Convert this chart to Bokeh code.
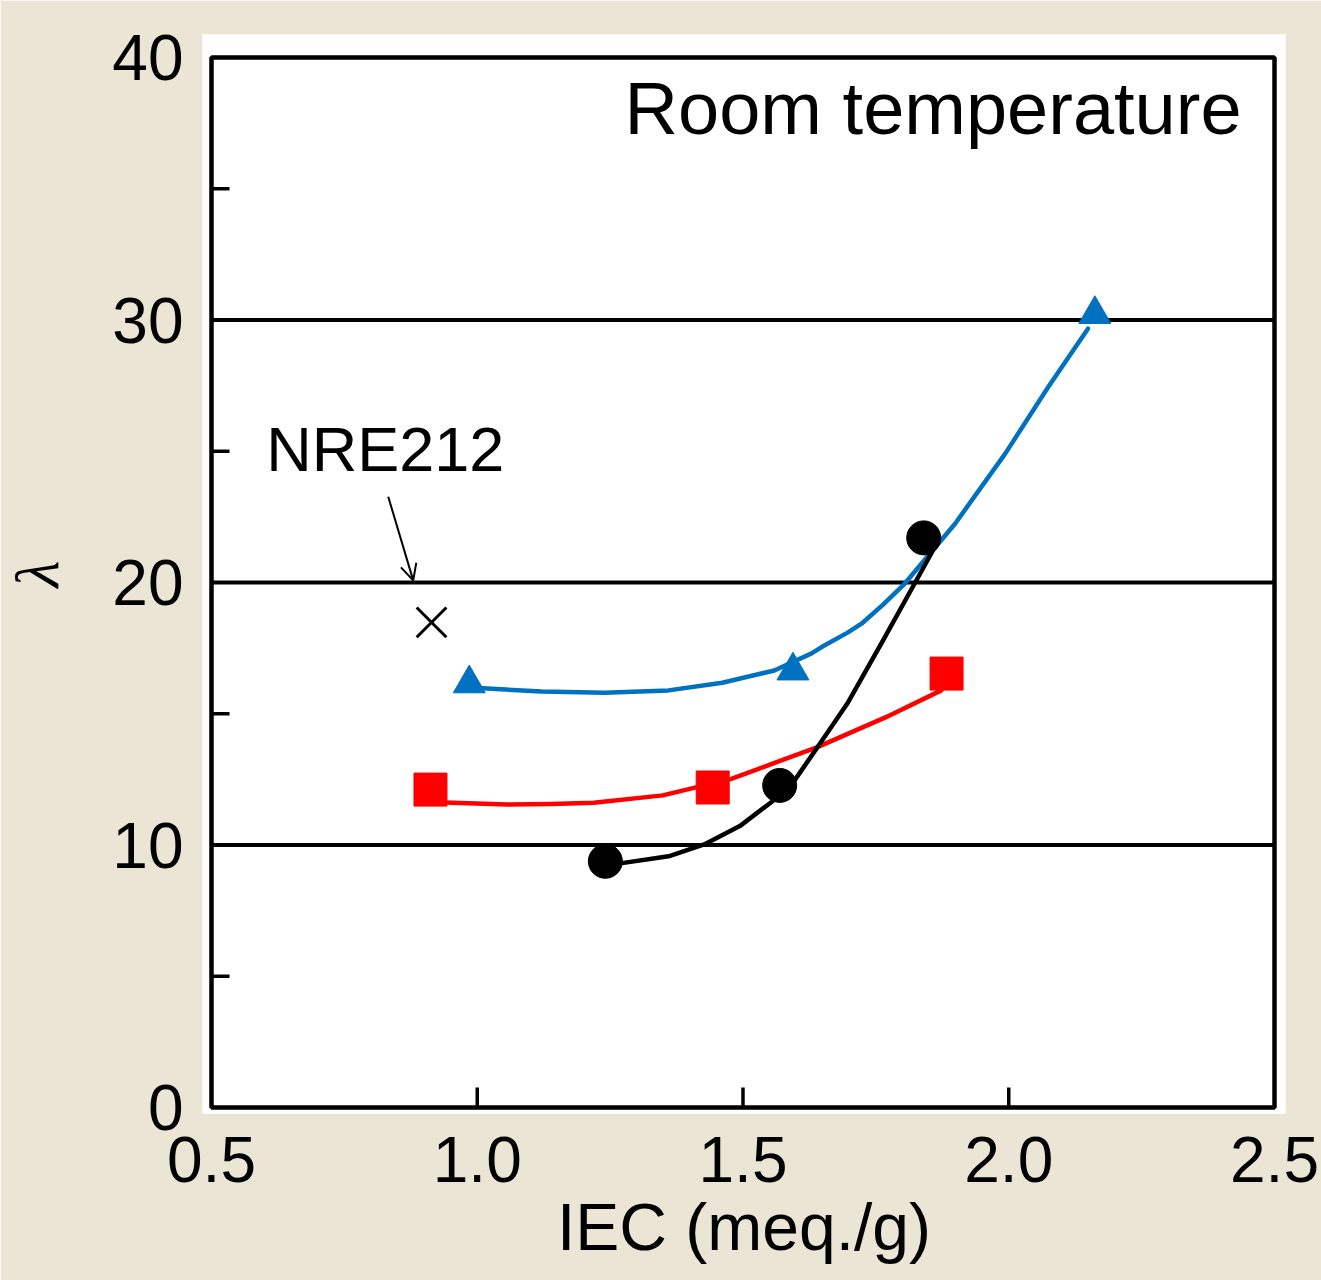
from bokeh.plotting import figure
from bokeh.models import FixedTicker, Label, Arrow, OpenHead, BoxAnnotation
from bokeh.embed import file_html
from bokeh.resources import INLINE

# ---------------- data ----------------
x_ticks = [0.5, 1.0, 1.5, 2.0, 2.5]
x_tick_labels = ["0.5", "1.0", "1.5", "2.0", "2.5"]
y_ticks = [0, 10, 20, 30, 40]
y_minor_ticks = [5, 15, 25, 35]
y_tick_labels = ["0", "10", "20", "30", "40"]

# blue triangles
tri_x = [0.985, 1.594, 2.162]
tri_y = [16.15, 16.64, 30.22]
# red squares
sq_x = [0.912, 1.443, 1.883]
sq_y = [12.11, 12.19, 16.53]
# black circles
circ_x = [1.241, 1.569, 1.840]
circ_y = [9.38, 12.27, 21.70]
# NRE212 reference point
nre_x = [0.914]
nre_y = [18.48]

# trend curves
blue_fit_x = [0.985, 1.011, 1.121, 1.239, 1.360, 1.461, 1.559, 1.629, 1.648, 1.696,
              1.723, 1.763, 1.804, 1.899, 1.993, 2.074, 2.149]
blue_fit_y = [15.99, 15.97, 15.85, 15.80, 15.89, 16.18, 16.65, 17.30, 17.54, 18.08,
              18.43, 19.15, 19.95, 22.24, 24.90, 27.44, 29.67]
red_fit_x = [0.912, 0.924, 1.057, 1.140, 1.219, 1.349, 1.478, 1.640, 1.769, 1.873]
red_fit_y = [11.64, 11.63, 11.54, 11.56, 11.61, 11.89, 12.52, 13.73, 14.87, 15.89]
blk_fit_x = [1.245, 1.269, 1.360, 1.427, 1.494, 1.555, 1.598, 1.642, 1.696,
             1.763, 1.824, 1.857]
blk_fit_y = [9.28, 9.30, 9.57, 10.02, 10.72, 11.66, 12.49, 13.78, 15.38,
             17.78, 20.00, 21.21]

# ---------------- layout / style ----------------
BG = "#EBE5D6"
BLUE = "#0070C0"
RED = "#FF0000"
FONT = "Liberation Sans"
X0, X1, Y0, Y1 = 0.5, 2.5, 0.0, 40.0          # axis box of the chart
BOX_W, BOX_H = 1063, 1050                     # pixel size of the black box
PX_X = (X1 - X0) / BOX_W                      # data units per pixel
PX_Y = (Y1 - Y0) / BOX_H
# white panel slightly larger than the black box (pixels)
M_L, M_R, M_T, M_B = 9, 11, 23, 6

p = figure(frame_width=BOX_W + M_L + M_R, frame_height=BOX_H + M_T + M_B,
           x_range=(X0 - M_L * PX_X, X1 + M_R * PX_X),
           y_range=(Y0 - M_B * PX_Y, Y1 + M_T * PX_Y),
           output_backend="svg", toolbar_location=None,
           min_border_left=201, min_border_right=37,
           min_border_top=34, min_border_bottom=167)
p.border_fill_color = BG
p.background_fill_color = "white"
p.outline_line_color = None
p.xgrid.grid_line_color = None
p.ygrid.grid_line_color = None

# horizontal grid lines at the inner major y ticks
inner_y = y_ticks[1:-1]
p.segment(x0=[X0] * len(inner_y), y0=inner_y, x1=[X1] * len(inner_y), y1=inner_y,
          line_color="black", line_width=4)
# inward minor ticks on the left edge
p.segment(x0=[X0] * len(y_minor_ticks), y0=y_minor_ticks,
          x1=[X0 + 18 * PX_X] * len(y_minor_ticks), y1=y_minor_ticks,
          line_color="black", line_width=3.5)
# inward ticks on the bottom edge
inner_x = x_ticks[1:-1]
p.segment(x0=inner_x, y0=[Y0] * len(inner_x), x1=inner_x,
          y1=[Y0 + 20 * PX_Y] * len(inner_x), line_color="black", line_width=3.5)

# black axis box
p.add_layout(BoxAnnotation(left=X0, right=X1, bottom=Y0, top=Y1,
                           fill_alpha=0, line_color="black", line_alpha=1.0,
                           line_width=4.5, level="underlay"))

# x axis (labels only; line and ticks are drawn above)
xa = p.xaxis[0]
xa.ticker = FixedTicker(ticks=x_ticks)
xa.major_label_overrides = dict(zip(x_ticks, x_tick_labels))
xa.axis_line_color = None
xa.major_tick_line_color = None
xa.minor_tick_line_color = None
xa.major_label_standoff = 17
xa.major_label_text_font = FONT
xa.major_label_text_font_size = "64px"
xa.major_label_text_color = "black"
xa.axis_label = "IEC (meq./g)"
xa.axis_label_text_font = FONT
xa.axis_label_text_font_size = "66px"
xa.axis_label_text_font_style = "normal"
xa.axis_label_text_color = "black"
xa.axis_label_standoff = 5

# y axis
ya = p.yaxis[0]
ya.ticker = FixedTicker(ticks=y_ticks)
ya.major_label_overrides = dict(zip(y_ticks, y_tick_labels))
ya.axis_line_color = None
ya.major_tick_line_color = None
ya.minor_tick_line_color = None
ya.major_label_standoff = 13
ya.major_label_text_font = FONT
ya.major_label_text_font_size = "64px"
ya.major_label_text_color = "black"
ya.axis_label = "λ"
ya.axis_label_text_font = "Liberation Serif"
ya.axis_label_text_font_size = "62px"
ya.axis_label_text_font_style = "italic"
ya.axis_label_text_color = "black"
ya.axis_label_standoff = 38

# curves
for xs, ys, col in [(blue_fit_x, blue_fit_y, BLUE),
                    (red_fit_x, red_fit_y, RED),
                    (blk_fit_x, blk_fit_y, "black")]:
    p.line(xs, ys, line_color=col, line_width=4.5,
           line_join="round", line_cap="round")

# markers
p.scatter(tri_x, tri_y, marker="triangle", size=32, fill_color=BLUE, line_color=BLUE)
p.scatter(sq_x, sq_y, marker="square", size=33, fill_color=RED, line_color=RED)
p.scatter(circ_x, circ_y, marker="circle", size=34, fill_color="black", line_color="black")
p.scatter(nre_x, nre_y, marker="x", size=42, line_color="black", line_width=3)

# annotations
p.add_layout(Label(x=2.438, y=38.06, text="Room temperature", text_align="right",
                   text_baseline="alphabetic", text_font=FONT,
                   text_font_size="74px", text_color="black"))
p.add_layout(Label(x=0.603, y=25.08, text="NRE212", text_align="left",
                   text_baseline="alphabetic", text_font=FONT,
                   text_font_size="63px", text_color="black"))
p.add_layout(Arrow(end=OpenHead(size=16, line_width=2, line_color="black"),
                   x_start=0.8325, y_start=23.27, x_end=0.8795, y_end=20.08,
                   line_width=2, line_color="black"))

open("out.html", "w").write(file_html(p, INLINE))
